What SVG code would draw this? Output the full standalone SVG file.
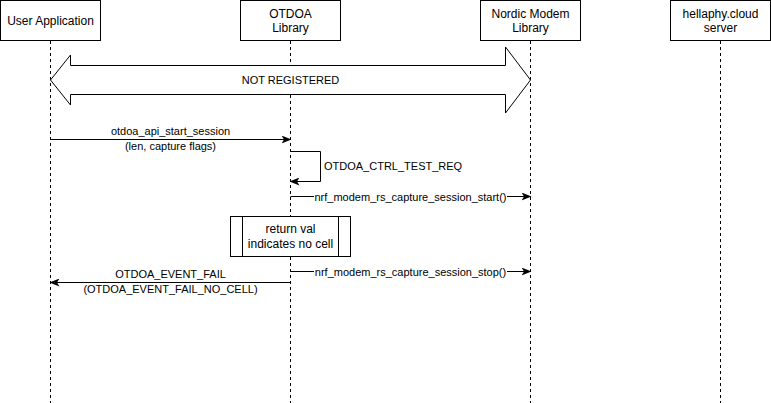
<svg xmlns="http://www.w3.org/2000/svg" width="771" height="403" viewBox="0 0 771 403">
<defs>
<style>
.box{fill:#fff;stroke:#000;stroke-width:1}
.life{stroke:#000;stroke-width:1;stroke-dasharray:3 3;fill:none}
.msg{stroke:#000;stroke-width:1;fill:none}
.t12{font-family:"Liberation Sans",Arial,Helvetica,sans-serif;font-size:12px;fill:#000;text-anchor:middle}
.t11{font-family:"Liberation Sans",Arial,Helvetica,sans-serif;font-size:11px;fill:#000;text-anchor:middle}
.lbg{fill:#fff}
</style>
<marker id="ah" viewBox="0 0 10 8" refX="9" refY="4" markerWidth="10" markerHeight="8" markerUnits="userSpaceOnUse" orient="auto">
<path d="M0,0 L10,4 L0,8 L2.5,4 z" fill="#000"/>
</marker>
</defs>
<rect x="0" y="0" width="771" height="403" fill="#fff"/>

<g id="lifelines">
<line class="life" x1="50.5" y1="41" x2="50.5" y2="403"/>
<line class="life" x1="290.5" y1="41" x2="290.5" y2="403"/>
<line class="life" x1="530.5" y1="41" x2="530.5" y2="403"/>
<line class="life" x1="720.5" y1="41" x2="720.5" y2="403"/>
</g>

<g id="user-application">
<rect class="box" x="0.5" y="0.5" width="100" height="40"/>
<text class="t12" x="50.5" y="25">User Application</text>
</g>
<g id="otdoa-library">
<rect class="box" x="240.5" y="0.5" width="100" height="40"/>
<text class="t12" x="290.5" y="18">OTDOA</text>
<text class="t12" x="290.5" y="32">Library</text>
</g>
<g id="nordic-modem-library">
<rect class="box" x="480.5" y="0.5" width="100" height="40"/>
<text class="t12" x="530.5" y="18">Nordic Modem</text>
<text class="t12" x="530.5" y="32">Library</text>
</g>
<g id="hellaphy-server">
<rect class="box" x="670.5" y="0.5" width="100" height="40"/>
<text class="t12" x="720.5" y="18">hellaphy.cloud</text>
<text class="t12" x="720.5" y="32">server</text>
</g>

<g id="not-registered">
<path d="M50.5,80 L70.5,55 L70.5,65.5 L505.5,65.5 L505.5,47 L530.5,80 L505.5,113 L505.5,94.5 L70.5,94.5 L70.5,105 Z" fill="#fff" stroke="#000" stroke-width="1" stroke-linejoin="miter"/>
<text class="t11" x="290.5" y="84">NOT REGISTERED</text>
</g>

<g id="return-val">
<rect class="box" x="230.5" y="216.5" width="120" height="40"/>
<line class="msg" x1="242.5" y1="216.5" x2="242.5" y2="256.5"/>
<line class="msg" x1="338.5" y1="216.5" x2="338.5" y2="256.5"/>
<text class="t12" x="290.5" y="233">return val</text>
<text class="t12" x="290.5" y="248">indicates no cell</text>
</g>

<g id="connectors">
<line class="msg" x1="50.5" y1="139.5" x2="290.5" y2="139.5" marker-end="url(#ah)"/>
<text class="t11" x="170.5" y="135">otdoa_api_start_session</text>
<text class="t11" x="170.5" y="150">(len, capture flags)</text>

<path class="msg" d="M290.5,151.5 L320.5,151.5 L320.5,181.5 L290.5,181.5" marker-end="url(#ah)"/>
<text class="t11" x="324" y="170" style="text-anchor:start">OTDOA_CTRL_TEST_REQ</text>

<line class="msg" x1="290.5" y1="196.5" x2="530.5" y2="196.5" marker-end="url(#ah)"/>
<rect class="lbg" x="314" y="190" width="193" height="13"/>
<text class="t11" x="410.5" y="200.5">nrf_modem_rs_capture_session_start()</text>

<line class="msg" x1="290.5" y1="271.5" x2="530.5" y2="271.5" marker-end="url(#ah)"/>
<rect class="lbg" x="314" y="265" width="193" height="13"/>
<text class="t11" x="410.5" y="275.5">nrf_modem_rs_capture_session_stop()</text>

<line class="msg" x1="290.5" y1="282.5" x2="50.5" y2="282.5" marker-end="url(#ah)"/>
<text class="t11" x="170.5" y="278">OTDOA_EVENT_FAIL</text>
<text class="t11" x="170.5" y="293">(OTDOA_EVENT_FAIL_NO_CELL)</text>
</g>
</svg>
